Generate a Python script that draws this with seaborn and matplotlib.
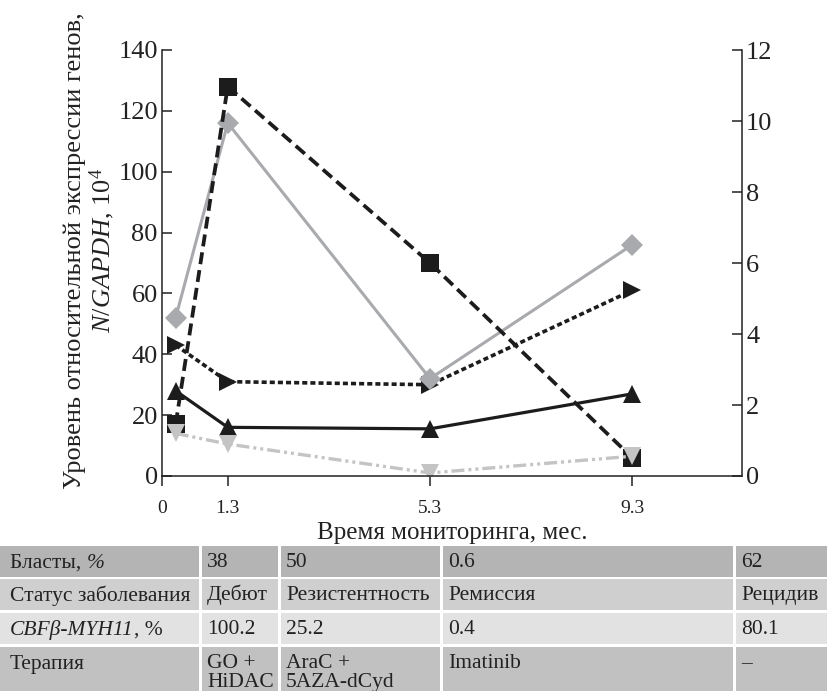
import numpy as np
import pandas as pd
import matplotlib
matplotlib.use("Agg")
from matplotlib import pyplot as plt
from matplotlib.patches import Rectangle
import seaborn as sns

# --- данные ---
months = [0.27, 1.3, 5.3, 9.3]
tick_months = [0, 1.3, 5.3, 9.3]
tick_labels = ["0", "1.3", "5.3", "9.3"]
right_ticks = [0, 2, 4, 6, 8, 10, 12]

squares = [17, 128, 70, 6]
diamonds = [52, 116, 32, 76]
right_tri = [43, 31, 30, 61]
up_tri = [28, 16, 15.5, 27]
down_tri = [14, 10.5, 1, 6.5]

# подписи строк: куски текста (текст, начертание)
row_labels = [
    [("Бласты, ", "normal"), ("%", "italic")],
    [("Статус заболевания", "normal")],
    [("CBFβ-MYH11", "italic"), (", %", "normal")],
    [("Терапия", "normal")],
]
blasts = ["38", "50", "0.6", "62"]
status = ["Дебют", "Резистентность", "Ремиссия", "Рецидив"]
fusion = ["100.2", "25.2", "0.4", "80.1"]
therapy = ["GO +\nHiDAC", "AraC +\n5AZA-dCyd", "Imatinib", "–"]

sns.set_style("ticks")
plt.rcParams['font.family'] = ['Liberation Serif', 'DejaVu Serif']
plt.rcParams['mathtext.fontset'] = 'custom'
plt.rcParams['mathtext.rm'] = 'Liberation Serif'
plt.rcParams['mathtext.it'] = 'Liberation Serif:italic'
plt.rcParams['mathtext.bf'] = 'Liberation Serif:bold'

names = ["ut", "rt", "dia", "sq", "dt"]
values = {"sq": squares, "dia": diamonds, "rt": right_tri, "ut": up_tri, "dt": down_tri}
df = pd.DataFrame({
    "month": months * len(names),
    "value": sum([values[n] for n in names], []),
    "series": np.repeat(names, len(months)),
})

palette = {"sq": "#1c1c1c", "dia": "#a9aaad", "rt": "#1c1c1c", "ut": "#1c1c1c", "dt": "#c4c4c4"}
markers = {"sq": "s", "dia": "D", "rt": ">", "ut": "^", "dt": "v"}
dashes = {"sq": (3.2, 1.6), "dia": "", "rt": (1.4, 0.85), "ut": "", "dt": (3.9, 1.2, 0.9, 1.2, 0.9, 1.2)}
widths = {"sq": 2.7, "dia": 2.2, "rt": 2.6, "ut": 2.3, "dt": 2.4}

fig = plt.figure(figsize=(8.28, 6.91), dpi=100)
W, H = 828, 691
ax = fig.add_axes([162 / W, 1 - 476 / H, (742 - 162) / W, (476 - 50) / H])

sns.lineplot(data=df, x="month", y="value", hue="series", style="series", size="series",
             hue_order=names, style_order=names, size_order=names,
             palette=palette, markers=markers, dashes=dashes, sizes=widths,
             markersize=11.5, markeredgewidth=0, legend=False, ax=ax)
# квадраты и треугольники на глаз крупнее
for line in ax.lines:
    if line.get_marker() in ("^", "v", ">", "s"):
        line.set_markersize(12.5)

ax.set_xlim(0, 11.47)
ax.set_ylim(0, 140)
ax.set_yticks(np.arange(0, 141, 20))
ax.set_xticks(tick_months)
ax.set_xticklabels(tick_labels)
for s in ["top", "right"]:
    ax.spines[s].set_visible(False)
for s in ["left", "bottom"]:
    ax.spines[s].set_linewidth(1.1)
    ax.spines[s].set_color("#222222")
ax.tick_params(axis="y", direction="in", length=7, width=1.1, labelsize=19, pad=3, colors="#222222")
ax.tick_params(axis="x", direction="out", length=7, width=1.1, labelsize=14, pad=10, colors="#222222")

ax.set_xlabel("Время мониторинга, мес.", fontsize=18, color="#222222", labelpad=0)
ax.xaxis.set_label_coords(0.5, -0.108)
ax.set_ylabel("Уровень относительной экспрессии генов,\n$\\mathit{N/GAPDH}$, 10$^4$",
              fontsize=19, color="#222222", linespacing=1.05)
ax.yaxis.set_label_coords(-0.078, 0.53)

ax2 = ax.twinx()
ax2.set_ylim(0, 12)
ax2.set_yticks(right_ticks)
for s in ["top", "left", "bottom"]:
    ax2.spines[s].set_visible(False)
ax2.spines["right"].set_linewidth(1.1)
ax2.spines["right"].set_color("#222222")
ax2.tick_params(axis="y", direction="in", length=7, width=1.1, labelsize=19, pad=3, colors="#222222")

# --- таблица под графиком ---
tab = fig.add_axes([0, 0, 1, 145 / H])
tab.set_xlim(0, W)
tab.set_ylim(145, 0)
tab.axis("off")

col_edges = [0, 202, 281, 443, 736, W + 3]
row_tops = [0, 33, 67, 101]
row_heights = [31, 31, 31, 46]
row_colors = ["#b4b4b4", "#cfcfcf", "#e2e2e3", "#c1c1c1"]
renderer = fig.canvas.get_renderer()

for r, row in enumerate([blasts, status, fusion, therapy]):
    for c in range(len(col_edges) - 1):
        x0 = col_edges[c]
        w = col_edges[c + 1] - x0 - 3
        tab.add_patch(Rectangle((x0, row_tops[r]), w, row_heights[r],
                                facecolor=row_colors[r], edgecolor="none"))
    # подпись строки из кусков разного начертания
    x = 10
    for seg, style in row_labels[r]:
        t = tab.text(x, row_tops[r] + 22, seg, fontsize=15.5, color="#222222",
                     style=style, va="baseline", ha="left")
        x += t.get_window_extent(renderer).width
    for c, txt in enumerate(row):
        for k, line in enumerate(txt.split("\n")):
            tab.text(col_edges[c + 1] + 5, row_tops[r] + 21 + 19 * k, line, fontsize=15.5,
                     color="#222222", va="baseline", ha="left")

fig.savefig("out.png", dpi=100)
